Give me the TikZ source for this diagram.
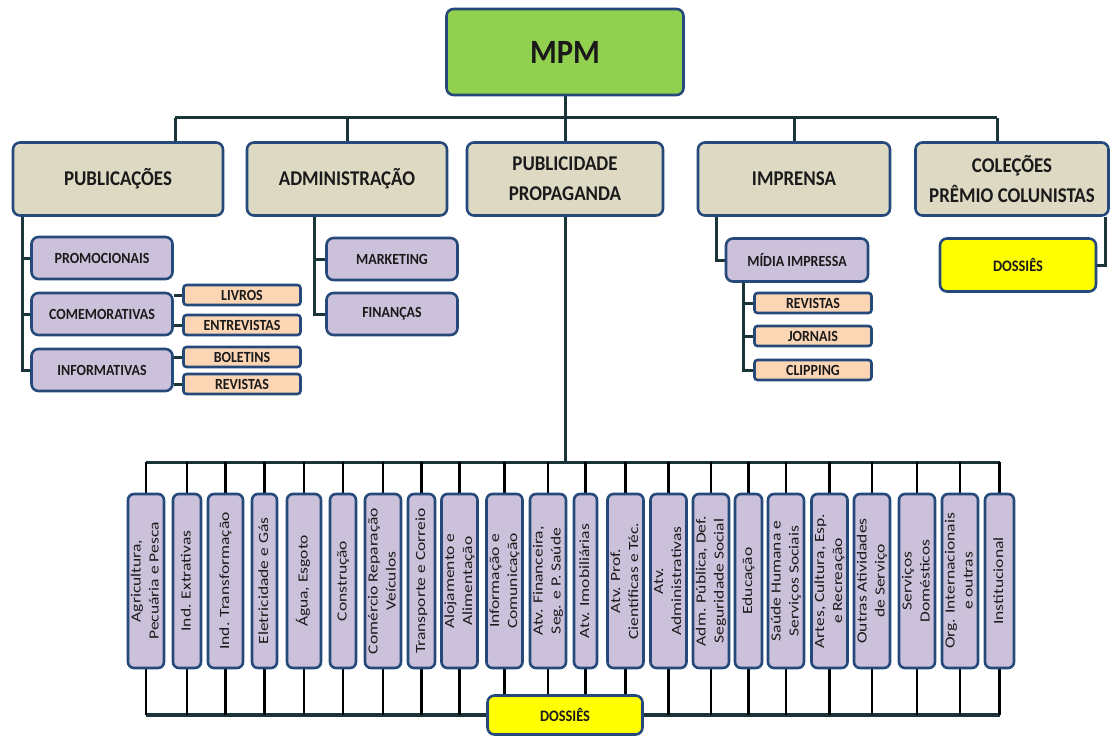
\documentclass[tikz,border=0pt]{standalone}
\usepackage{fontspec}
\usepackage{graphicx}
\setmainfont{Carlito}
\newfontfamily\boxfont{Carlito}[FakeStretch=0.9]
\newfontfamily\vertfont{Carlito}[FakeStretch=1.25]
\usetikzlibrary{backgrounds}

\definecolor{boxblue}{HTML}{24497A}
\definecolor{mpmgreen}{HTML}{92D050}
\definecolor{deptbeige}{HTML}{DDD9C3}
\definecolor{unitlilac}{HTML}{CCC1DA}
\definecolor{leafpeach}{HTML}{FCD5B4}
\definecolor{dossyellow}{HTML}{FFFF00}
\definecolor{wirecol}{HTML}{1B343A}
\definecolor{ink}{HTML}{1A1A1A}

\tikzstyle{box}=[draw=boxblue, line width=2.6pt, rounded corners=7pt, text=ink, inner sep=0pt]
\tikzstyle{rootbox}=[box, fill=mpmgreen, minimum width=237pt, minimum height=86pt,
  font=\boxfont\bfseries\fontsize{34}{40}\selectfont]
\tikzstyle{deptbox}=[box, fill=deptbeige, minimum height=73pt, align=center,
  font=\boxfont\bfseries\fontsize{21}{30}\selectfont]
\tikzstyle{unitbox}=[box, fill=unitlilac, minimum height=42pt,
  font=\boxfont\bfseries\fontsize{15.5}{18}\selectfont]
\tikzstyle{leafbox}=[box, fill=leafpeach, rounded corners=3pt, minimum width=117pt, minimum height=20pt,
  font=\boxfont\bfseries\fontsize{15.5}{18}\selectfont]
\tikzstyle{dossbox}=[box, fill=dossyellow, font=\boxfont\bfseries\fontsize{16}{18}\selectfont]
\tikzstyle{sectorbox}=[box, fill=unitlilac, rounded corners=6pt, minimum height=174pt,
  font=\vertfont\fontsize{14}{18}\selectfont]
\tikzstyle{wire}=[draw=wirecol, line width=3pt]
\tikzstyle{buswire}=[draw=wirecol, line width=4pt]
\tikzstyle{stem}=[draw=black, line width=2.6pt]

\begin{document}
\begin{tikzpicture}[x=1pt,y=-1pt]
\useasboundingbox (0,0) rectangle (1116,738);
% Root and departments
\node[rootbox] (mpm) at (565,52) {MPM};
\node[deptbox, minimum width=210pt] (pub) at (118,179) {PUBLICAÇÕES};
\node[deptbox, minimum width=200pt] (adm) at (347,179) {ADMINISTRAÇÃO};
\node[deptbox, minimum width=196pt] (pubprop) at (565,179) {PUBLICIDADE\\PROPAGANDA};
\node[deptbox, minimum width=192pt] (imp) at (794,179) {IMPRENSA};
\node[deptbox, minimum width=193pt] (col) at (1012,179) {COLEÇÕES\\PRÊMIO COLUNISTAS};
%
\node[unitbox, minimum width=141pt] (promo) at (102,258) {PROMOCIONAIS};
\node[unitbox, minimum width=141pt] (comem) at (102,314) {COMEMORATIVAS};
\node[unitbox, minimum width=141pt] (info) at (102,370) {INFORMATIVAS};
\node[leafbox] (livros) at (242,295) {LIVROS};
\node[leafbox] (entrev) at (242,325) {ENTREVISTAS};
\node[leafbox] (bolet) at (242,357) {BOLETINS};
\node[leafbox] (revpub) at (242,384) {REVISTAS};
%
\node[unitbox, minimum width=131pt] (mkt) at (392,259) {MARKETING};
\node[unitbox, minimum width=131pt] (fin) at (392,314) {FINANÇAS};
%
\node[unitbox, minimum width=142pt, minimum height=43pt] (midia) at (797,260) {MÍDIA IMPRESSA};
\node[leafbox] (revimp) at (813,303) {REVISTAS};
\node[leafbox] (jorn) at (813,336) {JORNAIS};
\node[leafbox] (clip) at (813,370) {CLIPPING};
%
\node[dossbox, minimum width=156pt, minimum height=53pt] (dosscol) at (1018,265) {DOSSIÊS};
% Economic sectors
\foreach \i/\cx/\w/\txt in {
  1/146/36/{Agricultura,\\Pecuária e Pesca},
  2/187/28/{Ind. Extrativas},
  3/225.5/35/{Ind. Transformação},
  4/264.5/25/{Eletricidade e Gás},
  5/304/34/{Água, Esgoto},
  6/343/26/{Construção},
  7/383/36/{Comércio Reparação\\Veículos},
  8/421.5/27/{Transporte e Correio},
  9/459.5/33/{Alojamento e\\Alimentação},
  10/504.5/35/{Informação e\\Comunicação},
  11/548/36/{Atv. Financeira,\\Seg. e P. Saúde},
  12/585.5/23/{Atv. Imobiliárias},
  13/625.5/35/{Atv. Prof.\\Científicas e Téc.},
  14/668.5/35/{Atv.\\Administrativas},
  15/711/36/{Adm. Pública, Def.\\Seguridade Social},
  16/748.5/27/{Educação},
  17/786/36/{Saúde Humana e\\Serviços Sociais},
  18/829.5/35/{Artes, Cultura, Esp.\\e Recreação},
  19/872/36/{Outras Atividades\\de Serviço},
  20/917/36/{Serviços\\Domésticos},
  21/960/36/{Org. Internacionais\\e outras},
  22/999.5/29/{Institucional}}{
  \node[sectorbox, minimum width=\w pt] (sec\i) at (\cx,581)
    {\rotatebox{90}{\begin{tabular}{@{}c@{}}\txt\end{tabular}}};
}
\node[dossbox, minimum width=155pt, minimum height=39pt] (dosssec) at (565,715) {DOSSIÊS};
% Connectors behind the boxes
\begin{pgfonlayer}{background}
  \coordinate (busL) at (175,118);
  \coordinate (busR) at (997,118);
  \draw[wire] (busL) -- (busR);
  \draw[wire] (mpm) -- (pubprop);
  \draw[wire] (busL) -- (busL |- pub.north);
  \draw[wire] (adm) -- (adm |- busL);
  \draw[wire] (imp) -- (imp |- busL);
  \draw[wire] (busR) -- (busR |- col.north);
  %
  \draw[wire] ([xshift=11pt]pub.south west) |- (promo);
  \draw[wire] ([xshift=11pt]pub.south west) |- (comem);
  \draw[wire] ([xshift=11pt]pub.south west) |- (info);
  \draw[wire] (livros) -- (livros -| comem.east);
  \draw[wire] (entrev) -- (entrev -| comem.east);
  \draw[wire] (bolet) -- (bolet -| info.east);
  \draw[wire] (revpub) -- (revpub -| info.east);
  \draw[wire] ([xshift=69pt]adm.south west) |- (mkt);
  \draw[wire] ([xshift=69pt]adm.south west) |- (fin);
  \draw[wire] ([xshift=20pt]imp.south west) |- (midia);
  \draw[wire] ([xshift=19pt]midia.south west) |- (revimp);
  \draw[wire] ([xshift=19pt]midia.south west) |- (jorn);
  \draw[wire] ([xshift=19pt]midia.south west) |- (clip);
  \draw[wire] ([xshift=-4pt]col.south east) |- (dosscol);
  % Sector buses
  \coordinate (upbus) at (565,462);
  \draw[wire] (pubprop) -- (upbus);
  \draw[wire] (sec1.north |- upbus) -- (sec22.north |- upbus);
  \draw[buswire] (sec1.south |- dosssec) -- (sec22.south |- dosssec);
  \foreach \i in {1,...,22}{
    \draw[stem] (sec\i) -- (sec\i.north |- upbus);
    \draw[stem] (sec\i) -- (sec\i.south |- dosssec);
  }
\end{pgfonlayer}
\end{tikzpicture}
\end{document}
